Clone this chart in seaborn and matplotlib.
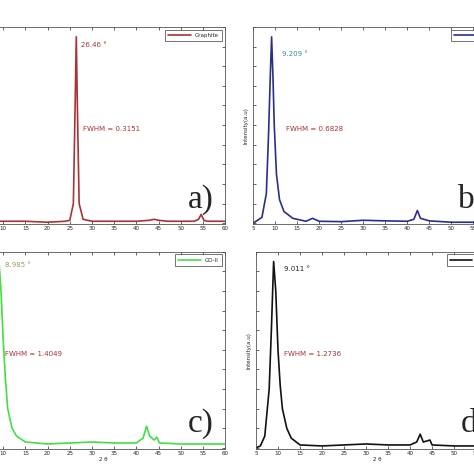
import matplotlib
matplotlib.use("Agg")
import matplotlib.pyplot as plt
import seaborn as sns
import pandas as pd

sns.set_style("ticks")
plt.rcParams['font.family'] = ['DejaVu Sans']

a_x = [5,10,15,20,24,25,25.8,26.2,26.46,26.7,27.1,28,30,35,40,43,44,45,47,50,53,54,54.6,55.2,56,60]
a_y = [0.01,0.01,0.01,0.005,0.01,0.015,0.1,0.6,0.95,0.6,0.1,0.02,0.01,0.01,0.01,0.015,0.02,0.015,0.01,0.01,0.01,0.02,0.045,0.015,0.01,0.01]
b_x = [5,7,8,8.5,8.9,9.2,9.5,9.8,10.3,11,12,14,17,18.5,20,25,30,35,40,41.5,42.3,43,45,50,55,60]
b_y = [0.0,0.03,0.15,0.45,0.75,0.95,0.75,0.5,0.25,0.12,0.06,0.025,0.01,0.025,0.01,0.008,0.015,0.012,0.01,0.02,0.065,0.025,0.012,0.005,0.005,0.005]
c_x = [5,7,8,8.985,9.5,10,10.5,11,12,13,15,20,25,30,35,40,41.5,42.3,43,44,44.6,45.2,50,55,60]
c_y = [0.0,0.1,0.5,0.97,0.8,0.55,0.35,0.2,0.1,0.06,0.03,0.02,0.025,0.03,0.025,0.025,0.05,0.11,0.06,0.04,0.055,0.025,0.02,0.02,0.02]
d_x = [5,6,7,8,8.5,9.011,9.5,10,10.5,11,12,13,15,20,25,30,35,40,41.5,42.3,43,44.5,45,50,55,60]
d_y = [0.0,0.01,0.06,0.3,0.6,0.95,0.8,0.5,0.32,0.2,0.1,0.05,0.015,0.01,0.015,0.02,0.015,0.015,0.03,0.07,0.03,0.04,0.015,0.01,0.01,0.01]

panels = [
    dict(x=a_x, y=a_y, name="Graphite", color="#a83236", pos=[-0.040, 0.527, 0.515, 0.416],
         peak="26.46 °", peak_xy=(27.5, 0.9), peak_c="#a83236", fwhm="FWHM = 0.3151", fwhm_xy=(28, 0.47),
         tag="a)", ylabel=False, xlabel=False),
    dict(x=b_x, y=b_y, name="GO", color="#2e2e88", pos=[0.534, 0.527, 0.511, 0.416],
         peak="9.209 °", peak_xy=(11.5, 0.85), peak_c="#3a8a9a", fwhm="FWHM = 0.6828", fwhm_xy=(12.5, 0.47),
         tag="b)", ylabel=True, xlabel=False),
    dict(x=c_x, y=c_y, name="GO-II", color="#44dd44", pos=[-0.040, 0.053, 0.515, 0.416],
         peak="8.985 °", peak_xy=(10.3, 0.92), peak_c="#9a9a60", fwhm="FWHM = 1.4049", fwhm_xy=(10.3, 0.47),
         tag="c)", ylabel=False, xlabel=True),
    dict(x=d_x, y=d_y, name="GO-III", color="#111111", pos=[0.540, 0.053, 0.511, 0.416],
         peak="9.011 °", peak_xy=(11.3, 0.9), peak_c="#222222", fwhm="FWHM = 1.2736", fwhm_xy=(11.3, 0.47),
         tag="d)", ylabel=True, xlabel=True),
]

fig = plt.figure(figsize=(4.74, 4.74), dpi=100)
for p in panels:
    ax = fig.add_axes(p["pos"])
    df = pd.DataFrame({"x": p["x"], "y": p["y"]})
    sns.lineplot(data=df, x="x", y="y", ax=ax, color=p["color"], lw=1.2, label=p["name"])
    ax.set_xlim(5, 60)
    ax.set_ylim(-0.005, 1.0)
    ax.set_xticks(range(5, 61, 5))
    ax.set_yticks([i / 10 for i in range(0, 11)])
    ax.set_yticklabels([])
    ax.tick_params(direction="in", top=True, right=True, length=2, labelsize=4, width=0.5, pad=1.5)
    for s in ax.spines.values():
        s.set_linewidth(0.6)
        s.set_color("#555555")
    ax.set_xlabel("2 θ" if p["xlabel"] else "", fontsize=4, labelpad=1)
    ax.set_ylabel("Intensity(a.u)" if p["ylabel"] else "", fontsize=4, labelpad=2)
    ax.text(*p["peak_xy"], p["peak"], color=p["peak_c"], fontsize=5)
    ax.text(*p["fwhm_xy"], p["fwhm"], color="#a83236", fontsize=5)
    ax.text(51.5, 0.08, p["tag"], fontsize=24, family="Liberation Serif")
    leg = ax.legend(loc="upper right", fontsize=4, frameon=True, fancybox=False,
                    edgecolor="#333333", handlelength=4, borderpad=0.6)
    leg.get_frame().set_linewidth(0.6)

fig.savefig("out.png", dpi=100)
